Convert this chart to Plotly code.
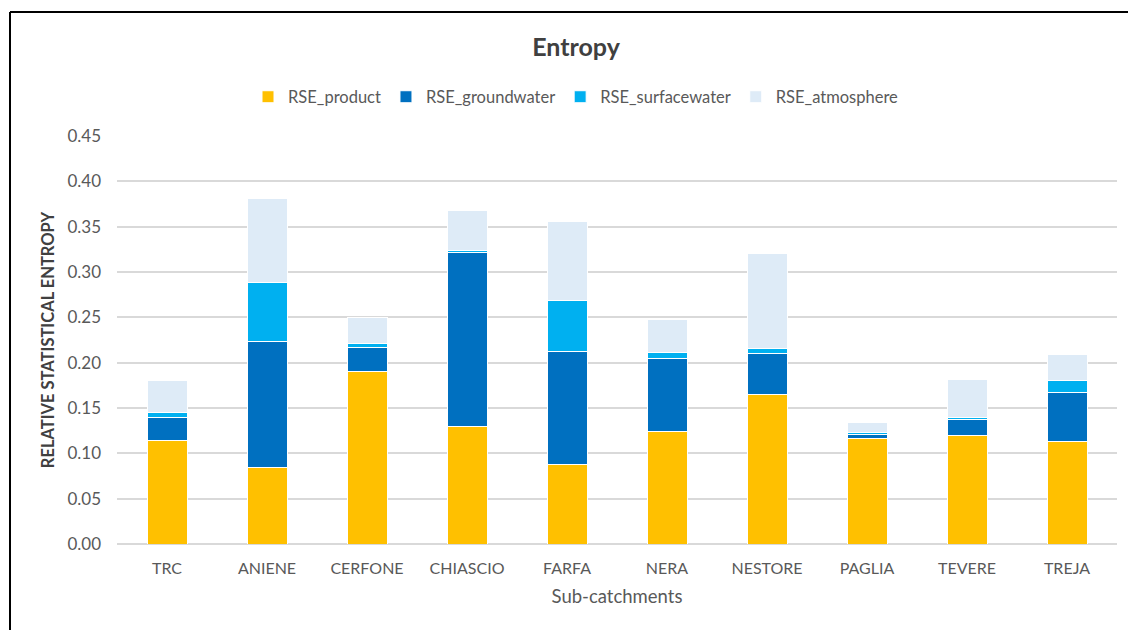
import plotly.graph_objects as go

categories = ["TRC", "ANIENE", "CERFONE", "CHIASCIO", "FARFA", "NERA", "NESTORE", "PAGLIA", "TEVERE", "TREJA"]
rse_product = [0.114, 0.084, 0.190, 0.130, 0.088, 0.124, 0.165, 0.116, 0.120, 0.113]
rse_groundwater = [0.026, 0.139, 0.027, 0.191, 0.124, 0.081, 0.045, 0.005, 0.017, 0.054]
rse_surfacewater = [0.005, 0.065, 0.004, 0.003, 0.057, 0.006, 0.006, 0.002, 0.003, 0.013]
rse_atmosphere = [0.035, 0.093, 0.029, 0.044, 0.087, 0.037, 0.104, 0.011, 0.041, 0.029]
y_ticks = [0.00, 0.05, 0.10, 0.15, 0.20, 0.25, 0.30, 0.35, 0.40, 0.45]

series = [
    ("RSE_product", rse_product, "#FFC000"),
    ("RSE_groundwater", rse_groundwater, "#0070C0"),
    ("RSE_surfacewater", rse_surfacewater, "#00B0F0"),
    ("RSE_atmosphere", rse_atmosphere, "#DEEBF7"),
]

FONT = "Lato, Carlito, Calibri, 'Open Sans', sans-serif"

fig = go.Figure()
for name, vals, color in series:
    fig.add_trace(go.Bar(
        x=categories, y=vals, name=name,
        marker=dict(color=color, line=dict(color="white", width=1)),
    ))

W, H = 1128, 630
L, R, T, B = 117, 11, 136, 86
pw, ph = W - L - R, H - T - B

def px(x):
    return (x - L) / pw

def py(y):
    return (H - B - y) / ph

fig.update_layout(
    width=W, height=H,
    barmode="stack", bargap=0.6,
    paper_bgcolor="white", plot_bgcolor="white",
    margin=dict(l=L, r=R, t=T, b=B),
    font=dict(family=FONT, color="#595959", size=16),
    title=dict(text="<b>Entropy</b>", x=576 / W, xanchor="center", xref="container",
               y=1 - 47 / H, yanchor="middle", yref="container",
               font=dict(family=FONT, size=25, color="#404040")),
    legend=dict(orientation="h", x=576 / W, xanchor="center", xref="container",
                y=1 - 97 / H, yanchor="middle", yref="container",
                traceorder="normal", font=dict(family=FONT, size=16.5, color="#595959"),
                itemwidth=30, bgcolor="rgba(0,0,0,0)"),
    xaxis=dict(showgrid=False, showline=False, ticks="", ticklabelstandoff=13,
               tickfont=dict(family=FONT, size=16, color="#595959"),
               title=dict(text="Sub-catchments", standoff=14,
                          font=dict(family=FONT, size=18.5, color="#595959"))),
    yaxis=dict(range=[0, 0.45], tickvals=y_ticks, tickformat=".2f",
               showgrid=True, gridcolor="#D9D9D9", gridwidth=1.5,
               zeroline=True, zerolinecolor="#D9D9D9", zerolinewidth=1.5,
               showline=False, ticks="", ticklabelstandoff=15,
               tickfont=dict(family=FONT, size=17, color="#595959"),
               title=dict(text="<b>RELATIVE STATISTICAL ENTROPY</b>", standoff=8,
                          font=dict(family=FONT, size=16.5, color="#404040"))),
    showlegend=True,
)

# outer frame lines (top and left) like the reference image border
fig.add_shape(type="line", xref="paper", yref="paper",
              x0=px(10), x1=px(1128), y0=py(12), y1=py(12),
              line=dict(color="black", width=2))
fig.add_shape(type="line", xref="paper", yref="paper",
              x0=px(10), x1=px(10), y0=py(12), y1=py(630),
              line=dict(color="black", width=2))

fig.write_html("out.html", config={"displayModeBar": False},
               post_script="document.body.style.margin='0';document.body.style.overflow='hidden';")
